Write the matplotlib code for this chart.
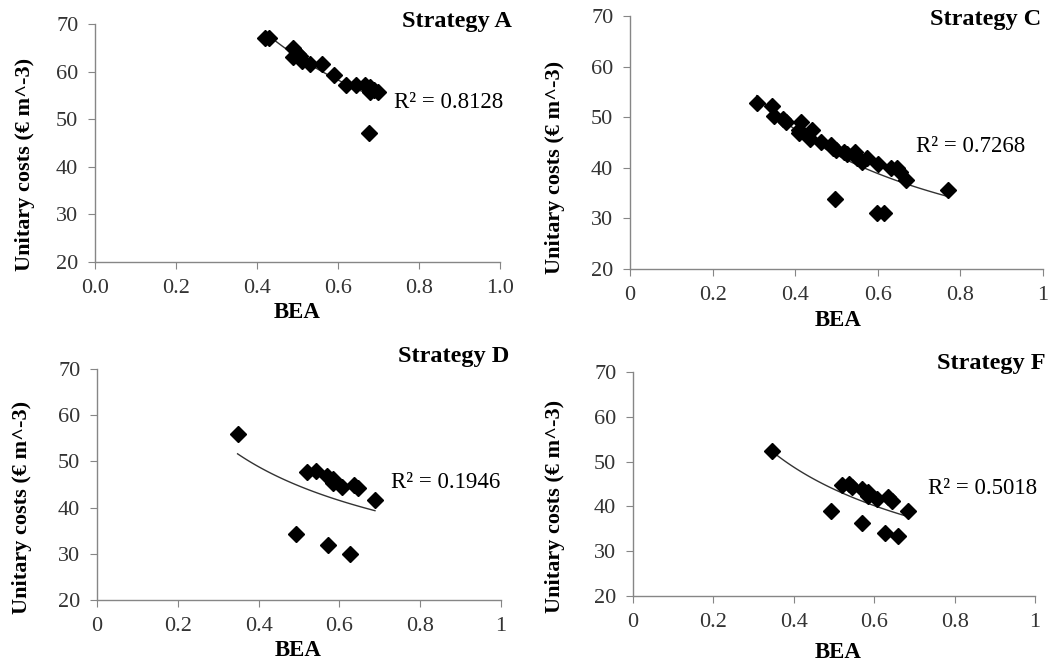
import numpy as np
import matplotlib
matplotlib.use("Agg")
import matplotlib.pyplot as plt

plt.rcParams['font.family'] = ['Liberation Serif', 'DejaVu Serif']

# BEA vs unitary costs
bea_a = [0.42, 0.43, 0.49, 0.49, 0.50, 0.506, 0.51, 0.53, 0.56, 0.59, 0.62, 0.645, 0.667,
         0.68, 0.68, 0.69, 0.70, 0.677]
cost_a = [67.0, 67.0, 64.9, 63.0, 63.8, 63.3, 62.3, 61.5, 61.5, 59.2, 57.2, 57.2, 57.2,
          56.7, 55.8, 56.1, 55.8, 47.0]

bea_c = [0.307, 0.345, 0.349, 0.371, 0.378, 0.413, 0.408, 0.44, 0.41, 0.436, 0.462, 0.486,
         0.492, 0.499, 0.518, 0.525, 0.546, 0.549, 0.561, 0.575, 0.601, 0.631, 0.646, 0.654,
         0.668, 0.771, 0.496, 0.597, 0.616]
cost_c = [52.9, 52.2, 50.2, 49.6, 49.1, 49.1, 47.5, 47.5, 46.8, 45.6, 45.0, 44.5,
          43.9, 43.5, 43.2, 42.7, 43.2, 41.9, 41.2, 41.9, 40.7, 39.9, 39.9, 39.2,
          37.6, 35.6, 33.8, 31.0, 31.0]

bea_d = [0.348, 0.521, 0.542, 0.569, 0.585, 0.585, 0.606, 0.637, 0.647, 0.688, 0.493, 0.571, 0.626]
cost_d = [55.9, 47.8, 48.0, 46.9, 46.2, 45.3, 44.4, 44.9, 44.2, 41.6, 34.3, 32.0, 30.0]

bea_f = [0.347, 0.519, 0.537, 0.544, 0.569, 0.585, 0.585, 0.606, 0.635, 0.645, 0.685,
         0.492, 0.570, 0.627, 0.658]
cost_f = [52.4, 44.8, 45.0, 44.4, 43.8, 43.3, 42.4, 41.6, 42.2, 41.3, 39.0,
          39.0, 36.2, 34.1, 33.4]

titles = ["Strategy A", "Strategy C", "Strategy D", "Strategy F"]
r2_labels = ["R² = 0.8128", "R² = 0.7268", "R² = 0.1946", "R² = 0.5018"]
x_ticks = [0, 0.2, 0.4, 0.6, 0.8, 1.0]
x_labels_a = ["0.0", "0.2", "0.4", "0.6", "0.8", "1.0"]
x_labels = ["0", "0.2", "0.4", "0.6", "0.8", "1"]
y_ticks = [20, 30, 40, 50, 60, 70]

W, H = 1052, 666
fig = plt.figure(figsize=(W / 100, H / 100), dpi=100)


def px(x, y):
    # pixel position (from top-left) to figure fraction
    return x / W, 1 - y / H


# axes boxes in pixels: left, top, right, bottom
boxes = [(95, 24, 500, 262), (630, 16, 1043, 269), (97, 369, 501, 600), (633, 372, 1035, 596)]
title_pos = [(512, 22), (1041, 20), (509, 356), (1046, 364)]
r2_pos = [(394, 103), (916, 146), (391, 482), (928, 488)]
ylab_pos = [(25, 164), (555, 167), (22, 507), (555, 506)]
xlab_pos = [(297, 313), (838, 320), (298, 650), (838, 652)]

data = [(bea_a, cost_a), (bea_c, cost_c), (bea_d, cost_d), (bea_f, cost_f)]
grey = '#868686'

for i, (bea, cost) in enumerate(data):
    l, t, r, b = boxes[i]
    ax = fig.add_axes([l / W, 1 - b / H, (r - l) / W, (b - t) / H])
    bea = np.array(bea)
    cost = np.array(cost)

    # power trendline, fitted in log-log space like Excel
    k, c0 = np.polyfit(np.log(bea), np.log(cost), 1)
    xs = np.linspace(bea.min(), bea.max(), 100)
    ax.plot(xs, np.exp(c0) * xs ** k, color='#333333', linewidth=1.0, zorder=2)
    ax.plot(bea, cost, linestyle='none', marker='D', markersize=8, color='black', zorder=3)

    ax.set_xlim(0, 1)
    ax.set_ylim(20, 70)
    ax.set_xticks(x_ticks)
    ax.set_xticklabels(x_labels_a if i == 0 else x_labels)
    ax.set_yticks(y_ticks)
    for side in ['top', 'right']:
        ax.spines[side].set_visible(False)
    for side in ['left', 'bottom']:
        ax.spines[side].set_color(grey)
        ax.spines[side].set_linewidth(1.0)
    ax.tick_params(direction='out', length=5, color=grey, labelsize=16,
                   labelcolor='#333333', pad=7)

    fig.text(*px(*title_pos[i]), titles[i], ha='right', va='center',
             fontsize=17.5, fontweight='bold')
    fig.text(*px(*r2_pos[i]), r2_labels[i], ha='left', va='center', fontsize=16.5)
    fig.text(*px(*ylab_pos[i]), "Unitary costs (€ m^-3)", ha='center', va='center',
             rotation=90, fontsize=16, fontweight='bold')
    fig.text(*px(*xlab_pos[i]), "BEA", ha='center', va='center',
             fontsize=16.5, fontweight='bold')

fig.savefig("out.png", dpi=100)
